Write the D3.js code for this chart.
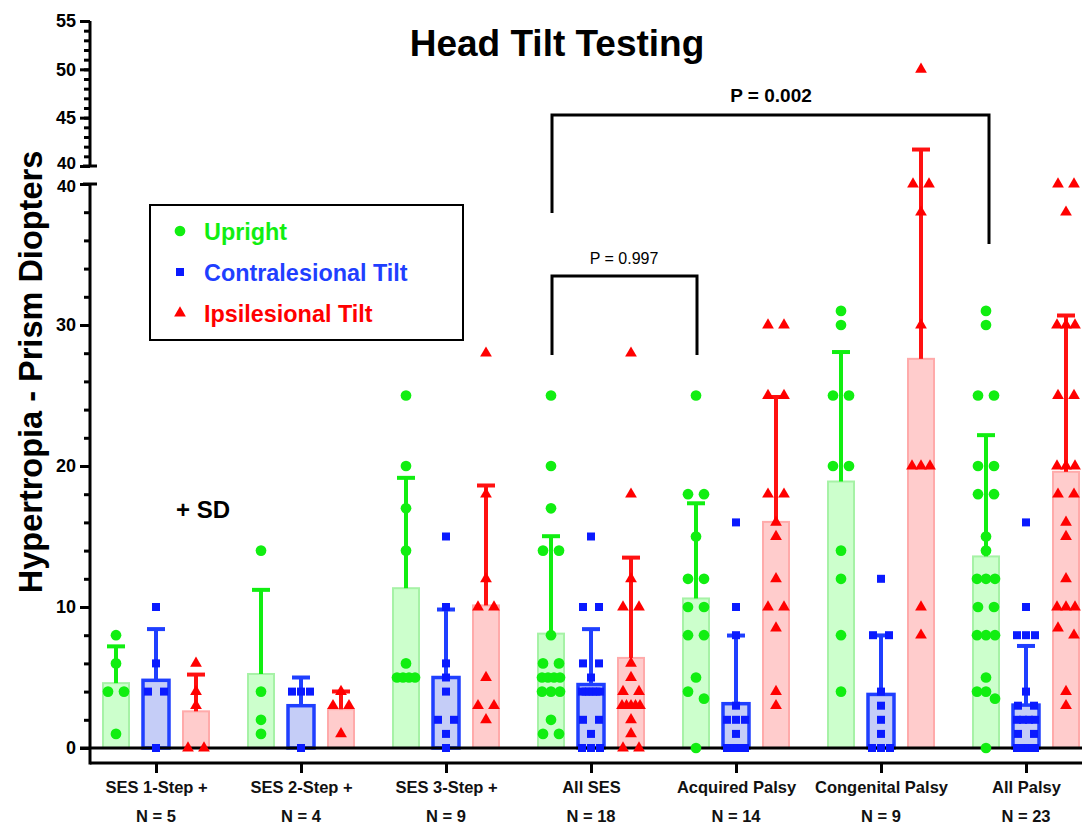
<!DOCTYPE html>
<html><head><meta charset="utf-8">
<script src="https://cdn.jsdelivr.net/npm/d3@7"></script>
<style>body{margin:0;background:#fff} svg{display:block} text{font-family:"Liberation Sans",Arial,sans-serif}</style>
</head><body><svg id="c" width="1082" height="827"></svg>
<script>
const categories = ["SES 1-Step +","SES 2-Step +","SES 3-Step +","All SES","Acquired Palsy","Congenital Palsy","All Palsy"];
const nLabels = ["N = 5","N = 4","N = 9","N = 18","N = 14","N = 9","N = 23"];
const seriesNames = ["Upright","Contralesional Tilt","Ipsilesional Tilt"];
const upright = [
  [8,6,4,4,1],
  [14,4,2,1],
  [25,20,17,14,6,5,5,5,5],
  [25,20,17,14,14,8,6,6,5,5,5,5,4,4,4,2,1,1],
  [25,18,18,15,12,12,10,10,8,8,5,4,3.5,0],
  [31,30,25,25,20,20,14,12,8,4],
  [31,30,25,25,20,20,18,18,15,14,12,12,12,10,10,8,8,8,5,4,4,3.5,0]
];
const contralesional = [
  [10,6,4,4,0],
  [4,4,4,0],
  [15,10,6,5,4,2,2,1,0],
  [15,10,10,6,6,5,4,4,4,4,4,4,2,2,1,0,0,0],
  [16,10,8,3,2,2,2,1,0,0,0,0,0,0],
  [12,8,8,4,3,2,1,0,0,0],
  [16,10,8,8,8,4,3,3,2,2,2,2,1,1,0,0,0,0,0,0,0,0,0]
];
const ipsilesional = [
  [6,4,3,0,0],
  [4,3,3,1],
  [28,18,12,10,10,5,3,3,2],
  [28,18,12,10,10,6,5,4,4,3,3,3,3,3,2,1,0,0],
  [30,30,25,25,18,18,16,15,12,10,10,8.5,4,3],
  [50,40,40,38,30,20,20,20,10,8],
  [40,40,38,30,30,30,25,25,20,20,20,18,18,16,15,12,10,10,10,8.5,8,4,3]
];
const lowerTicks = [0,10,20,30,40];
const upperTicks = [40,45,50,55];

const svg = d3.select("#c");
const yLow = d3.scaleLinear().domain([0,40]).range([748,184]);
const yHigh = d3.scaleLinear().domain([40,55]).range([166,21]);
const y = v => v <= 40 ? yLow(v) : yHigh(v);
const x = d3.scalePoint().domain(categories).range([156,1026]);
const off = d3.scalePoint().domain(seriesNames).range([-40,40]);

const series = [
  {name:seriesNames[0], data:upright, pt:"#11ee11", fill:"#ccffcc", stroke:"#a6f2a6", sw:2, err:"#11ee11", sym:d3.symbolCircle, size:90},
  {name:seriesNames[1], data:contralesional, pt:"#0a1aff", fill:"#c5cdf7", stroke:"#1f3fff", sw:3.5, err:"#1f3fff", sym:d3.symbolSquare, size:64},
  {name:seriesNames[2], data:ipsilesional, pt:"#ff0000", fill:"#ffcccc", stroke:"#ffaaaa", sw:2, err:"#ff1111", sym:d3.symbolTriangle, size:60}
];
const BW = 26;

// bars
const gBars = svg.append("g");
series.forEach(s => {
  categories.forEach((c,i) => {
    const m = d3.mean(s.data[i]);
    const cx = x(c) + off(s.name);
    gBars.append("rect").attr("x", cx-BW/2).attr("y", y(m)).attr("width", BW).attr("height", y(0)-y(m))
      .attr("fill", s.fill).attr("stroke", s.stroke).attr("stroke-width", s.sw);
  });
});

// zero line & axes
svg.append("line").attr("x1",80).attr("x2",1082).attr("y1",y(0)).attr("y2",y(0)).attr("stroke","#000").attr("stroke-width",3);
svg.append("line").attr("x1",90).attr("x2",1082).attr("y1",763).attr("y2",763).attr("stroke","#000").attr("stroke-width",3);
svg.append("line").attr("x1",90).attr("x2",90).attr("y1",yLow(40)).attr("y2",764.5).attr("stroke","#000").attr("stroke-width",3);
svg.append("line").attr("x1",90).attr("x2",90).attr("y1",yHigh(55)).attr("y2",yHigh(40)).attr("stroke","#000").attr("stroke-width",3);

function styleAxis(g){ g.select(".domain").remove(); g.selectAll("line").attr("stroke","#000").attr("stroke-width",3); g.selectAll("text").attr("font-size",18).attr("font-weight","bold").attr("fill","#000"); }
svg.append("g").attr("transform","translate(90,0)").call(d3.axisLeft(yLow).tickValues(d3.range(0,40,2)).tickSize(6).tickFormat("")).call(styleAxis);
const gLow = svg.append("g").attr("transform","translate(90,0)").call(d3.axisLeft(yLow).tickValues(lowerTicks).tickSize(10).tickPadding(4)).call(styleAxis);
svg.append("g").attr("transform","translate(90,0)").call(d3.axisLeft(yHigh).tickValues(d3.range(41,55,1)).tickSize(6).tickFormat("")).call(styleAxis);
const gHigh = svg.append("g").attr("transform","translate(90,0)").call(d3.axisLeft(yHigh).tickValues(upperTicks).tickSize(10).tickPadding(4)).call(styleAxis);
// separate the two "40" labels at the break a little
gLow.selectAll(".tick").filter(d => d === 40).select("text").attr("y", 2).attr("font-size",17);
gHigh.selectAll(".tick").filter(d => d === 40).select("text").attr("y", -3).attr("font-size",17);
// break caps
[yLow(40), yHigh(40)].forEach(yy => svg.append("line").attr("x1",83).attr("x2",97).attr("y1",yy).attr("y2",yy).attr("stroke","#000").attr("stroke-width",3));

// x axis ticks + labels
const xa = svg.append("g").attr("transform","translate(0,763)").call(d3.axisBottom(x).tickSize(10).tickSizeOuter(0));
xa.select(".domain").remove();
xa.selectAll("line").attr("stroke","#000").attr("stroke-width",3);
xa.selectAll("text").attr("dy",null).attr("y",30).attr("font-size",16.5).attr("font-weight","bold").attr("fill","#111");
svg.append("g").selectAll("text").data(categories).join("text")
  .attr("x", d => x(d)).attr("y", 822).attr("text-anchor","middle")
  .attr("font-size",16.5).attr("font-weight","bold").attr("fill","#111").text((d,i) => nLabels[i]);

// error bars
series.forEach(s => {
  categories.forEach((c,i) => {
    const m = d3.mean(s.data[i]), sd = d3.deviation(s.data[i]);
    const cx = x(c) + off(s.name);
    svg.append("line").attr("x1",cx).attr("x2",cx).attr("y1",y(m)).attr("y2",y(m+sd)).attr("stroke",s.err).attr("stroke-width",4);
    svg.append("line").attr("x1",cx-9).attr("x2",cx+9).attr("y1",y(m+sd)).attr("y2",y(m+sd)).attr("stroke",s.err).attr("stroke-width",4);
  });
});

// points with simple cluster spreading
series.forEach(s => {
  const sym = d3.symbol().type(s.sym).size(s.size);
  categories.forEach((c,i) => {
    const cx = x(c) + off(s.name);
    const vals = s.data[i].slice().sort((a,b)=>b-a);
    const clusters = [];
    vals.forEach(v => {
      const last = clusters[clusters.length-1];
      if (last && Math.abs(y(last[last.length-1]) - y(v)) < 8) last.push(v); else clusters.push([v]);
    });
    clusters.forEach(cl => {
      const n = cl.length;
      const span = n === 1 ? 0 : (n === 2 ? 16 : Math.min(18, 9*(n-1)));
      cl.forEach((v,k) => {
        const dx = n === 1 ? 0 : -span/2 + k*span/(n-1);
        svg.append("path").attr("d", sym()).attr("fill", s.pt)
          .attr("transform", `translate(${cx+dx},${y(v)})`);
      });
    });
  });
});

// title
svg.append("text").attr("x",557).attr("y",56).attr("text-anchor","middle").attr("font-size",37).attr("font-weight","bold").text("Head Tilt Testing");
// y label
svg.append("text").attr("transform","translate(42,372) rotate(-90)").attr("text-anchor","middle").attr("font-size",32.5).attr("font-weight","bold").text("Hypertropia - Prism Diopters");

// legend
svg.append("rect").attr("x",150).attr("y",205).attr("width",313).attr("height",135).attr("fill","none").attr("stroke","#000").attr("stroke-width",2);
const legY = [231,272,313];
series.forEach((s,k) => {
  svg.append("path").attr("d", d3.symbol().type(s.sym).size(s.size)()).attr("fill", s.pt).attr("transform",`translate(180,${legY[k]})`);
  svg.append("text").attr("x",204).attr("y",legY[k]+8.5).attr("font-size",23.4).attr("font-weight","bold").attr("fill", k===0?"#11ee11":(k===1?"#1f3fff":"#ff0000")).text(s.name);
});

svg.append("text").attr("x",176).attr("y",518).attr("font-size",24).attr("font-weight","bold").text("+ SD");

// significance brackets
svg.append("path").attr("d",`M552,213 V115 H989 V244`).attr("fill","none").attr("stroke","#000").attr("stroke-width",3);
svg.append("text").attr("x",771).attr("y",102).attr("text-anchor","middle").attr("font-size",19).attr("font-weight","bold").text("P = 0.002");
svg.append("path").attr("d",`M552,355 V276 H697 V355`).attr("fill","none").attr("stroke","#000").attr("stroke-width",3);
svg.append("text").attr("x",624).attr("y",264).attr("text-anchor","middle").attr("font-size",16).text("P = 0.997");
</script></body></html>
